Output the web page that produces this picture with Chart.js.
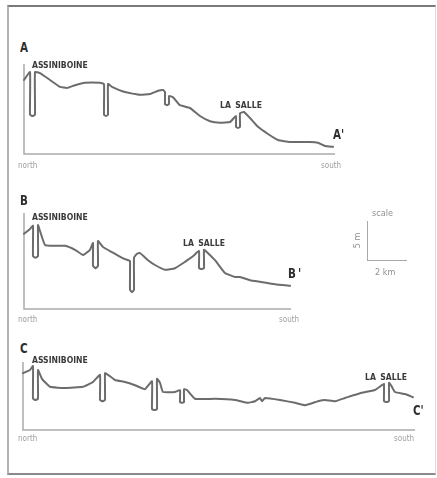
<!DOCTYPE html>
<html lang="en">
<head>
<meta charset="UTF-8">
<title>Profiles A-A', B-B', C-C'</title>
<style>
* { margin: 0; padding: 0; box-sizing: border-box; }
body {
    width: 437px;
    height: 478px;
    background: #ffffff;
    position: relative;
    overflow: hidden;
    font-family: "Liberation Sans Narrow", "DejaVu Sans Condensed", "Liberation Sans", sans-serif;
}
.frame {
    position: absolute;
    left: 7px; top: 5px;
    width: 429px; height: 470px;
    border-top: 2px solid #7a7a7a;
    border-bottom: 2px solid #8a8a8a;
    border-left: 2px solid #b4b4b4;
    border-right: 1px solid #dadada;
}
canvas { position: absolute; }
.lbl {
    position: absolute;
    line-height: 1;
    white-space: nowrap;
    color: #3a3a3a;
    transform-origin: 0 0;
}
.big { font-size: 14px; font-weight: 700; color: #2e2e2e; transform: scaleX(0.82); }
.river { font-size: 9.5px; font-weight: 700; color: #3a3a3a; transform: scaleX(0.9); word-spacing: 2px; }
.dir { font-size: 8px; color: #a0a0a0; }
.scale-txt { font-size: 9px; color: #909090; }
.bar { position: absolute; background: #a8a8a8; }
</style>
</head>
<body>
<div class="frame"></div>

<!-- profile A -->
<canvas id="profA" width="323" height="102" style="left:18px; top:58px;"></canvas>
<div class="lbl big" style="left:20px; top:40px;">A</div>
<div class="lbl river" style="left:32px; top:60px;">ASSINIBOINE</div>
<div class="lbl river" style="left:220px; top:100px;">LA SALLE</div>
<div class="lbl big" style="left:333px; top:127px;">A'</div>
<div class="lbl dir" style="left:18px; top:162px;">north</div>
<div class="lbl dir" style="left:321px; top:162px;">south</div>

<!-- profile B -->
<canvas id="profB" width="279" height="108" style="left:18px; top:207px;"></canvas>
<div class="lbl big" style="left:20px; top:193px;">B</div>
<div class="lbl river" style="left:32px; top:212px;">ASSINIBOINE</div>
<div class="lbl river" style="left:183px; top:238px;">LA SALLE</div>
<div class="lbl big" style="left:288px; top:266px;">B&thinsp;'</div>
<div class="lbl dir" style="left:18px; top:316px;">north</div>
<div class="lbl dir" style="left:279px; top:316px;">south</div>

<!-- scale -->
<div class="lbl scale-txt" style="left:372px; top:209px;">scale</div>
<div class="bar" style="left:367px; top:221px; width:1px; height:40px;"></div>
<div class="bar" style="left:367px; top:260px; width:40px; height:1px;"></div>
<div class="lbl scale-txt" style="left:350px; top:236px; transform: rotate(-90deg); transform-origin: 50% 50%;">5 m</div>
<div class="lbl scale-txt" style="left:375px; top:268px;">2 km</div>

<!-- profile C -->
<canvas id="profC" width="404" height="80" style="left:17px; top:356px;"></canvas>
<div class="lbl big" style="left:20px; top:341px;">C</div>
<div class="lbl river" style="left:32px; top:355px;">ASSINIBOINE</div>
<div class="lbl river" style="left:365px; top:372px;">LA SALLE</div>
<div class="lbl big" style="left:413px; top:403px;">C'</div>
<div class="lbl dir" style="left:18px; top:435px;">north</div>
<div class="lbl dir" style="left:394px; top:435px;">south</div>

<script src="https://cdn.jsdelivr.net/npm/chart.js"></script>
<script>
// distance along profile (km, from north end) and elevation above datum (m)
const distA = [0, 0.3, 0.3, 0.425, 0.55, 0.55, 0.8, 1.3, 1.8, 2.15, 2.55, 3.05, 3.8,
    4.0, 4.0, 4.1, 4.2, 4.2, 4.4, 5.05, 5.8, 6.3, 6.7, 6.95,
    7.05, 7.05, 7.15, 7.25, 7.25, 7.45, 7.8, 8.3, 8.8, 9.3, 9.8, 10.3,
    10.6, 10.6, 10.7, 10.8, 10.8, 11.0, 11.3, 11.7, 12.2, 12.7, 13.3, 14.3, 14.7, 15.05, 15.45];
const elevA = [9.25, 10.25, 4.9, 4.75, 4.9, 10.25, 10.1, 9.25, 8.4, 8.25, 8.6, 8.9, 8.9,
    8.75, 4.9, 4.75, 4.9, 8.75, 8.4, 7.75, 7.4, 7.5, 7.9, 8.0,
    7.75, 6.25, 6.1, 6.25, 7.25, 7.1, 6.1, 5.75, 4.75, 4.1, 3.9, 4.0,
    4.75, 3.4, 3.25, 3.4, 5.1, 5.25, 4.5, 3.4, 2.5, 1.75, 1.5, 1.5, 1.4, 1.0, 0.9];

const distB = [0, 0.3, 0.45, 0.45, 0.575, 0.7, 0.7, 0.8, 1.05, 1.55, 2.05, 2.55, 2.95, 3.3,
    3.45, 3.45, 3.575, 3.7, 3.7, 3.95, 4.4, 4.9, 5.2,
    5.3, 5.3, 5.4, 5.5, 5.5, 5.65, 5.8, 6.2, 6.55, 7.05, 7.55, 8.05, 8.45,
    8.75, 8.75, 8.875, 9.0, 9.0, 9.15, 9.55, 10.05, 10.55, 10.8, 11.3, 11.8, 12.55, 13.3];
const elevB = [9.4, 10.0, 10.4, 6.6, 6.4, 6.6, 10.5, 9.75, 8.0, 7.9, 7.9, 7.4, 6.75, 7.4,
    8.25, 5.4, 5.1, 5.4, 8.5, 7.75, 7.1, 6.4, 6.1,
    6.0, 2.4, 2.1, 2.4, 6.4, 6.9, 7.0, 6.1, 5.5, 4.9, 5.1, 5.9, 6.6,
    7.25, 5.1, 5.0, 5.1, 7.4, 7.1, 6.1, 4.5, 4.0, 4.0, 3.6, 3.4, 3.1, 2.9];

const distC = [0, 0.35, 0.5, 0.5, 0.625, 0.75, 0.75, 0.95, 1.35, 2.1, 3.0, 3.5,
    3.85, 3.85, 3.975, 4.1, 4.1, 4.25, 4.6, 5.1, 5.6, 6.1,
    6.45, 6.45, 6.575, 6.7, 6.7, 6.85, 7.0, 7.6,
    7.85, 7.85, 7.95, 8.05, 8.05, 8.2, 8.6, 9.6, 10.6, 11.25, 11.6, 11.85, 11.95, 12.1,
    12.85, 13.6, 14.1, 14.75, 15.1, 15.6, 16.1, 16.85, 17.6, 17.95,
    18.05, 18.05, 18.175, 18.3, 18.3, 18.4, 18.6, 19.1, 19.5];
const elevC = [7.1, 7.5, 8.0, 3.9, 3.75, 3.9, 7.5, 6.4, 5.4, 5.25, 5.4, 6.0,
    6.9, 3.75, 3.6, 3.75, 7.1, 6.9, 6.25, 6.0, 5.6, 5.1,
    6.1, 2.6, 2.5, 2.6, 6.4, 5.9, 4.75, 4.75,
    5.0, 3.5, 3.4, 3.5, 5.1, 5.0, 3.9, 3.9, 3.75, 3.4, 3.6, 4.0, 3.6, 4.0,
    3.75, 3.4, 3.1, 3.6, 3.75, 3.6, 4.0, 4.6, 5.0, 5.6,
    5.75, 3.6, 3.5, 3.6, 5.9, 5.6, 4.75, 4.5, 4.1];

// axis extents (km, m) of each profile frame
const xMaxA = 15.55, yMaxA = 11.25;
const xMaxB = 13.35, yMaxB = 12;
const xMaxC = 19.6, yMaxC = 8.5;

// draws the L-shaped axis (left and bottom) of a profile
const axesLines = {
    id: 'axesLines',
    beforeDatasetsDraw(chart) {
        const { ctx, scales: { x, y } } = chart;
        const left = x.getPixelForValue(0), right = x.getPixelForValue(x.max);
        const bottom = y.getPixelForValue(0), top = y.getPixelForValue(y.max);
        ctx.save();
        ctx.strokeStyle = '#ababab';
        ctx.lineWidth = 1.5;
        ctx.beginPath();
        ctx.moveTo(left, top);
        ctx.lineTo(left, bottom);
        ctx.lineTo(right, bottom);
        ctx.stroke();
        ctx.restore();
    }
};

function drawProfile(id, dist, elev, xMax, yMax) {
    new Chart(document.getElementById(id), {
        type: 'scatter',
        data: {
            datasets: [{
                data: dist.map((d, i) => ({ x: d, y: elev[i] })),
                showLine: true,
                borderColor: '#6c6c6c',
                borderWidth: 2,
                borderJoinStyle: 'round',
                borderCapStyle: 'round',
                pointRadius: 0,
                tension: 0.12,
                clip: false
            }]
        },
        options: {
            responsive: false,
            animation: false,
            devicePixelRatio: 1,
            events: [],
            layout: { padding: 6 },
            scales: {
                x: { type: 'linear', display: false, min: 0, max: xMax },
                y: { type: 'linear', display: false, min: 0, max: yMax }
            },
            plugins: { legend: { display: false }, tooltip: { enabled: false } }
        },
        plugins: [axesLines]
    });
}

drawProfile('profA', distA, elevA, xMaxA, yMaxA);
drawProfile('profB', distB, elevB, xMaxB, yMaxB);
drawProfile('profC', distC, elevC, xMaxC, yMaxC);
</script>
</body>
</html>
